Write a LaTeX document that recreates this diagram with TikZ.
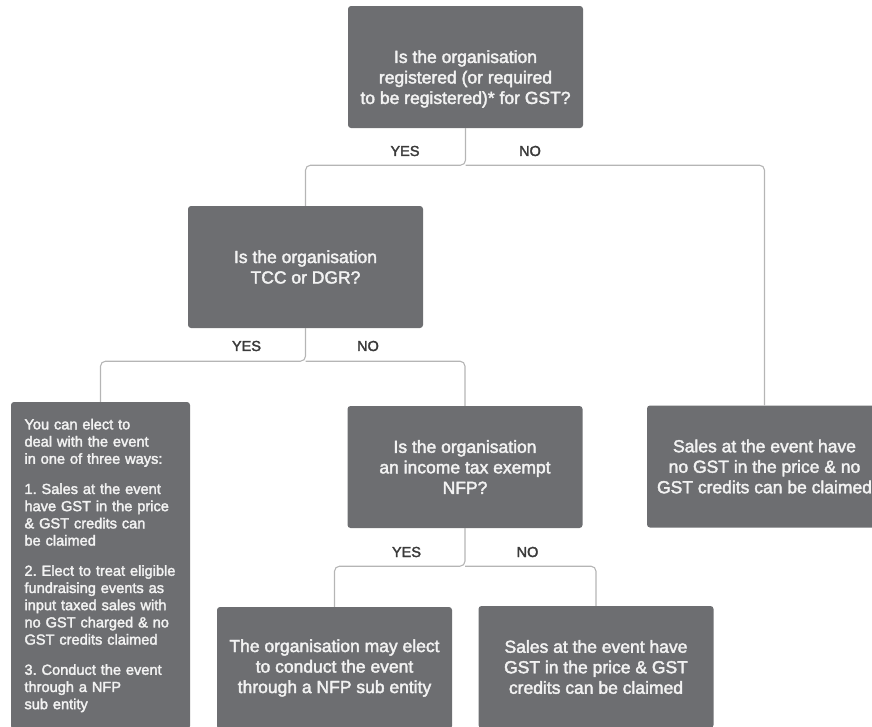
\documentclass[tikz,border=0pt]{standalone}
\usepackage{fontspec}
\setmainfont{Liberation Sans}
\newfontfamily\boxfont{Liberation Sans}[FakeBold=2.2]
\usetikzlibrary{positioning}

\definecolor{boxgray}{HTML}{6D6E71}
\definecolor{linegray}{HTML}{B5B5B5}
\definecolor{labelgray}{HTML}{3A3A3A}

\newcommand\nohyphens{\frenchspacing\hyphenpenalty=10000\relax}

\tikzset{
  question/.style={fill=boxgray, text=white!95!black, rounded corners=3pt,
    minimum width=235pt, minimum height=122pt, inner sep=0pt, align=center,
    font=\boxfont\fontsize{17.5}{20.5}\selectfont},
  choices/.style={question, minimum width=179pt, minimum height=327pt,
    text width=152pt, inner sep=13.5pt, align=left,
    font=\boxfont\fontsize{14.6}{17.2}\selectfont,
    execute at begin node=\nohyphens},
  link/.style={draw=linegray, line width=1.1pt, rounded corners=5pt},
  yesno/.style={text=labelgray, font=\boxfont\fontsize{14.5}{17}\selectfont}
}

\begin{document}
\begin{tikzpicture}[x=1pt, y=-1pt]

  \clip (0,0) rectangle (872,726);

  % Questions
  \node[question] (q1) at (465.5,67) {\mbox{}\\[16pt]Is the organisation\\registered (or required\\to be registered)* for GST?};
  \node[question] (q2) at (305.5,267) {Is the organisation\\TCC or DGR?};
  \node[question] (q3) at (465,467) {Is the organisation\\an income tax exempt\\NFP?};

  % Outcomes
  \node[question] (nogst) at (764.5,466.5) {Sales at the event have\\no GST in the price \& no\\GST credits can be claimed};
  \node[question] (subent) at (334.5,668) {The organisation may elect\\to conduct the event\\through a NFP sub entity};
  \node[question] (withgst) at (596,667) {Sales at the event have\\GST in the price \& GST\\credits can be claimed};
  \node[choices] (ways) at (100.5,565.5) {You can elect to\\deal with the event\\in one of three ways:\\[13pt]
    1. Sales at the event\\have GST in the price\\\& GST credits can\\be claimed\\[13pt]
    2. Elect to treat eligible\\fundraising events as\\input taxed sales with\\no GST charged \& no\\GST credits claimed\\[13pt]
    3. Conduct the event\\through a NFP\\sub entity};

  % Junctions
  \path (q1.south) ++(0,37) coordinate (j1);
  \path (q2.south) ++(0,33) coordinate (j2);
  \path (q3.south) ++(0,38) coordinate (j3);

  % Connectors
  \draw[link] (q1.south) -- (j1) -| (q2.north);
  \draw[link] (j1) -| (nogst.north);
  \draw[link] (q2.south) -- (j2) -| (ways.north);
  \draw[link] (j2) -| (q3.north);
  \draw[link] (q3.south) -- (j3) -| (subent.north);
  \draw[link] (j3) -| (withgst.north);

  % Labels
  \node[yesno] (yes1) at (405,151) {YES};
  \node[yesno] (no1) at (530,151) {NO};
  \node[yesno] (yes2) at (246.5,346) {YES};
  \node[yesno] (no2) at (368,346) {NO};
  \node[yesno] (yes3) at (406.5,552) {YES};
  \node[yesno] (no3) at (527.5,552) {NO};

\end{tikzpicture}
\end{document}
